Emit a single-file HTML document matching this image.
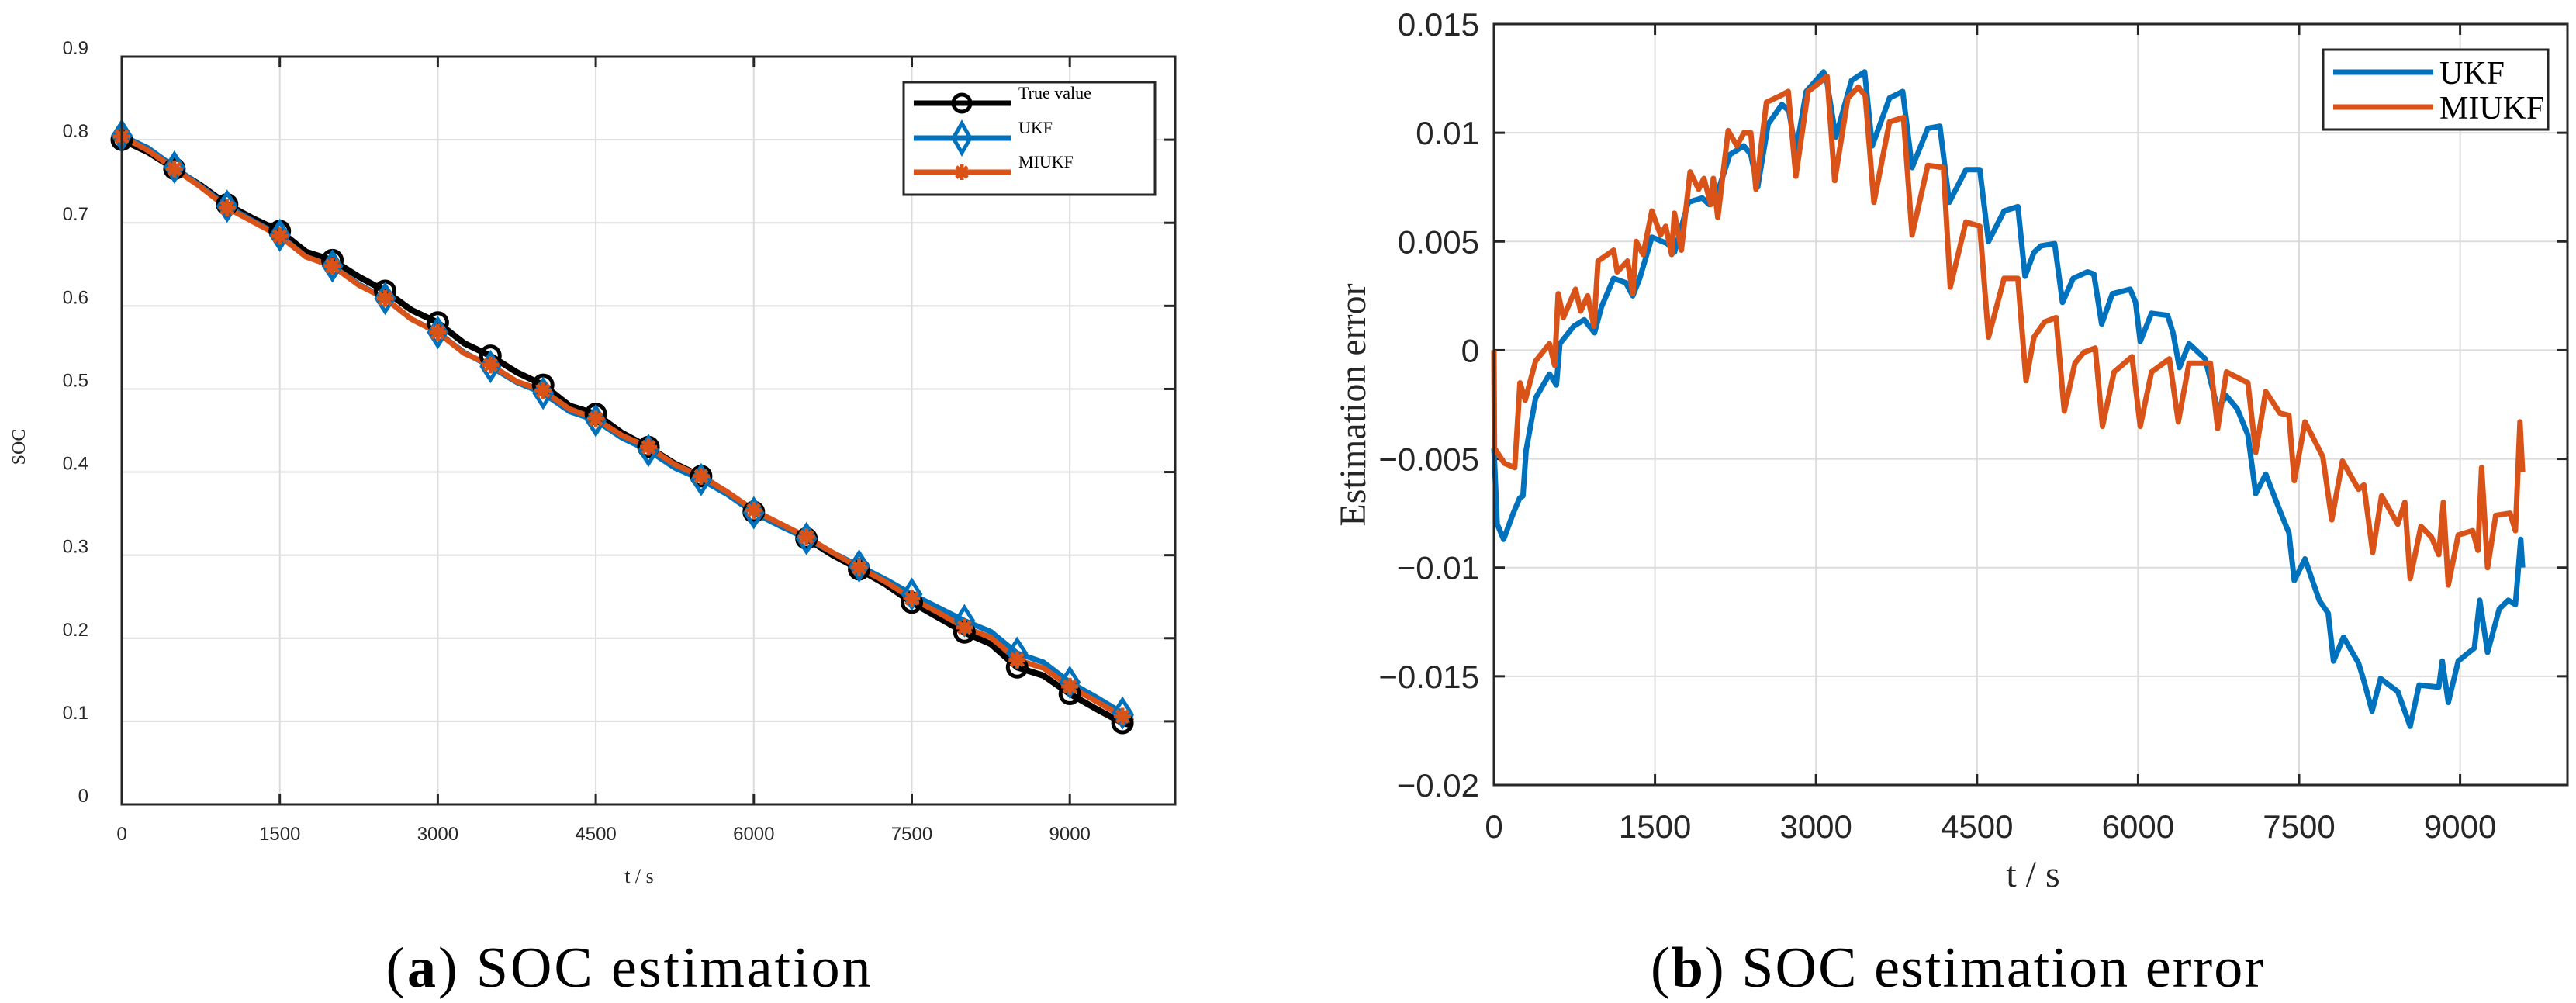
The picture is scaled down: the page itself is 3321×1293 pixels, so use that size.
<!DOCTYPE html>
<html><head><meta charset="utf-8"><style>
html,body{margin:0;padding:0;background:#fff;}
svg{display:block;}
</style></head><body>
<svg id="fig" width="3321" height="1293" viewBox="0 0 3321 1293" xmlns="http://www.w3.org/2000/svg">
<rect width="3321" height="1293" fill="#fff"/>
<g id="chartA"></g>
<g id="chartB"></g>
<text x="810" y="1272" text-anchor="middle" font-family="Liberation Serif, serif" font-size="74" fill="#000" textLength="625">(<tspan font-weight="bold">a</tspan>) SOC estimation</text>
<text x="2523" y="1272" text-anchor="middle" font-family="Liberation Serif, serif" font-size="74" fill="#000" textLength="790">(<tspan font-weight="bold">b</tspan>) SOC estimation error</text>
</svg>
<script>
// ---- Chart A data ----
const socTimes = [0,250,500,750,1000,1250,1500,1750,2000,2250,2500,2750,3000,3250,3500,3750,4000,4250,4500,4750,5000,5250,5500,5750,6000,6250,6500,6750,7000,7250,7500,7750,8000,8250,8500,8750,9000,9250,9500,9600];
const socTrue = [0.800,0.785,0.765,0.745,0.722,0.705,0.690,0.665,0.655,0.635,0.618,0.595,0.580,0.555,0.540,0.520,0.505,0.480,0.470,0.447,0.430,0.410,0.395,0.375,0.352,0.337,0.320,0.300,0.283,0.265,0.243,0.225,0.207,0.193,0.165,0.155,0.133,0.115,0.098,0.095];
const socUKF = [0.805,0.790,0.767,0.744,0.720,0.702,0.685,0.659,0.648,0.626,0.609,0.584,0.568,0.544,0.527,0.508,0.495,0.473,0.462,0.441,0.426,0.405,0.391,0.373,0.351,0.335,0.320,0.303,0.287,0.271,0.253,0.237,0.221,0.208,0.182,0.171,0.147,0.129,0.110,0.105];
const socMIUKF = [0.804,0.787,0.765,0.743,0.718,0.701,0.684,0.659,0.648,0.625,0.609,0.584,0.568,0.543,0.529,0.509,0.498,0.476,0.464,0.444,0.430,0.409,0.395,0.376,0.354,0.338,0.322,0.303,0.285,0.268,0.248,0.231,0.213,0.201,0.174,0.164,0.142,0.124,0.106,0.100];
const xTicksA = [0,1500,3000,4500,6000,7500,9000];
const yTicksA = [0,0.1,0.2,0.3,0.4,0.5,0.6,0.7,0.8,0.9];
const yTickLabelsA = ["0","0.1","0.2","0.3","0.4","0.5","0.6","0.7","0.8","0.9"];
// ---- Chart B data ----
const ukfErrT = [0,30,90,180,240,270,300,388,517,582,614,743,841,873,937,1002,1115,1228,1293,1358,1471,1616,1681,1810,1940,2004,2053,2198,2328,2392,2457,2554,2683,2748,2812,2909,3071,3103,3184,3330,3453,3524,3685,3808,3895,4041,4154,4241,4397,4526,4607,4752,4881,4947,5030,5096,5223,5296,5395,5528,5588,5661,5761,5927,5977,6020,6126,6276,6326,6385,6475,6625,6741,6824,6924,7023,7096,7189,7322,7405,7455,7555,7688,7771,7821,7914,8054,8103,8180,8259,8419,8535,8618,8801,8834,8890,8983,9133,9183,9256,9365,9449,9515,9565,9582];
const ukfErr = [-0.0045,-0.008,-0.0087,-0.0075,-0.0068,-0.0067,-0.0046,-0.0022,-0.0011,-0.0016,0.0003,0.0011,0.0014,0.0012,0.0008,0.0020,0.0033,0.0031,0.0025,0.0033,0.0052,0.0049,0.0045,0.0068,0.0070,0.0067,0.0068,0.0090,0.0094,0.0090,0.0075,0.0104,0.0113,0.0110,0.0091,0.0119,0.0128,0.0123,0.0098,0.0124,0.0128,0.0094,0.0116,0.0119,0.0084,0.0102,0.0103,0.0068,0.0083,0.0083,0.0050,0.0064,0.0066,0.0034,0.0045,0.0048,0.0049,0.0022,0.0033,0.0036,0.0035,0.0012,0.0026,0.0028,0.0022,0.0004,0.0017,0.0016,0.0008,-0.0008,0.0003,-0.0004,-0.0027,-0.0021,-0.0027,-0.0039,-0.0066,-0.0057,-0.0074,-0.0084,-0.0106,-0.0096,-0.0115,-0.0121,-0.0143,-0.0132,-0.0144,-0.0152,-0.0166,-0.0151,-0.0157,-0.0173,-0.0154,-0.0155,-0.0143,-0.0162,-0.0143,-0.0137,-0.0115,-0.0139,-0.0119,-0.0115,-0.0117,-0.0087,-0.0100];
const miukfErrT = [0,5,97,194,243,291,388,517,566,598,647,760,808,873,931,970,1115,1148,1244,1293,1325,1390,1471,1552,1600,1655,1681,1746,1827,1907,1956,2020,2043,2085,2182,2263,2328,2392,2441,2538,2667,2741,2812,2926,3006,3103,3174,3297,3394,3459,3540,3685,3815,3895,4041,4187,4251,4397,4526,4607,4752,4881,4957,5030,5130,5236,5313,5412,5495,5601,5668,5777,5944,6020,6126,6292,6375,6475,6674,6741,6824,7023,7096,7189,7322,7405,7455,7555,7721,7804,7904,8054,8103,8186,8269,8419,8485,8535,8635,8734,8801,8844,8890,8983,9116,9166,9200,9256,9332,9465,9515,9558,9582];
const miukfErr = [0.0,-0.0045,-0.0052,-0.0054,-0.0015,-0.0023,-0.0005,0.0003,-0.0007,0.0026,0.0015,0.0028,0.0018,0.0025,0.0011,0.0041,0.0046,0.0036,0.0041,0.0026,0.0050,0.0044,0.0064,0.0053,0.0057,0.0044,0.0063,0.0046,0.0082,0.0074,0.0079,0.0067,0.0079,0.0061,0.0101,0.0094,0.0100,0.0100,0.0074,0.0114,0.0117,0.0119,0.0080,0.0119,0.0122,0.0126,0.0078,0.0116,0.0121,0.0117,0.0068,0.0105,0.0107,0.0053,0.0085,0.0084,0.0029,0.0059,0.0057,0.0006,0.0033,0.0033,-0.0014,0.0006,0.0013,0.0015,-0.0028,-0.0006,-0.0001,0.0001,-0.0035,-0.0010,-0.0003,-0.0035,-0.0010,-0.0004,-0.0033,-0.0006,-0.0006,-0.0036,-0.0010,-0.0015,-0.0047,-0.0019,-0.0029,-0.0030,-0.0060,-0.0033,-0.0049,-0.0078,-0.0051,-0.0064,-0.0062,-0.0093,-0.0067,-0.0080,-0.0070,-0.0105,-0.0081,-0.0086,-0.0094,-0.0070,-0.0108,-0.0085,-0.0083,-0.0092,-0.0054,-0.0100,-0.0076,-0.0075,-0.0083,-0.0033,-0.0056];
const xTicksB = [0,1500,3000,4500,6000,7500,9000];
const yTicksB = [-0.02,-0.015,-0.01,-0.005,0,0.005,0.01,0.015];
const yTickLabelsB = ["\u22120.02","\u22120.015","\u22120.01","\u22120.005","0","0.005","0.01","0.015"];

const NS = "http://www.w3.org/2000/svg";
function mk(parent, tag, attrs, txt){
  const e = document.createElementNS(NS, tag);
  for (const k in attrs) e.setAttribute(k, attrs[k]);
  if (txt !== undefined) e.textContent = txt;
  parent.appendChild(e);
  return e;
}
const BLUE = "#0072BD", ORANGE = "#D95319";

// ===== Chart A =====
(function(){
  const g = document.getElementById("chartA");
  const L=157,R=1515,T=73,B=1037;
  const xA = t => L + t/10000*(R-L);
  const yA = v => B - v/0.9*(B-T);
  xTicksA.forEach(t=>{
    const gl = mk(g,"line",{x1:xA(t),x2:xA(t),y1:T,y2:B,stroke:"#dcdcdc","stroke-width":2});
    
    
    const tk = mk(g,"text",{x:xA(t),y:1083,"text-anchor":"middle","font-family":"Liberation Sans, sans-serif","font-size":24,fill:"#262626"},String(t));
    
    
    mk(g,"line",{x1:xA(t),x2:xA(t),y1:B,y2:B-14,stroke:"#262626","stroke-width":3});
    mk(g,"line",{x1:xA(t),x2:xA(t),y1:T,y2:T+14,stroke:"#262626","stroke-width":3});
  });
  yTicksA.forEach((v,i)=>{
    const gl = mk(g,"line",{x1:L,x2:R,y1:yA(v),y2:yA(v),stroke:"#dcdcdc","stroke-width":2});
    
    
    const tk = mk(g,"text",{x:114,y:yA(v)-3,"text-anchor":"end","font-family":"Liberation Sans, sans-serif","font-size":24,fill:"#262626"},yTickLabelsA[i]);
    
    
    mk(g,"line",{x1:R,x2:R-14,y1:yA(v),y2:yA(v),stroke:"#262626","stroke-width":3});
  });
  function series(vals, color, w, name){
    const d = socTimes.map((t,i)=>(i?"L":"M")+xA(t).toFixed(1)+","+yA(vals[i]).toFixed(1)).join(" ");
    const p = mk(g,"path",{d:d,fill:"none",stroke:color,"stroke-width":w,"stroke-linejoin":"round"});
    
    
  }
  series(socTrue,"#000",8,"true-value-line");
  series(socUKF,BLUE,7,"ukf-line");
  series(socMIUKF,ORANGE,7,"miukf-line");
  function circle(x,y){ mk(g,"circle",{cx:x,cy:y,r:12,fill:"none",stroke:"#000","stroke-width":5}); }
  function diamond(x,y){ mk(g,"path",{d:`M${x},${y-17} L${x+11},${y} L${x},${y+17} L${x-11},${y} Z`,fill:"none",stroke:BLUE,"stroke-width":5}); }
  function star(x,y){
    for(let a=0;a<4;a++){const an=a*Math.PI/4;mk(g,"line",{x1:x-11*Math.cos(an),y1:y-11*Math.sin(an),x2:x+11*Math.cos(an),y2:y+11*Math.sin(an),stroke:ORANGE,"stroke-width":5});}
    mk(g,"circle",{cx:x,cy:y,r:7,fill:ORANGE});
  }
  socTimes.forEach((t,i)=>{
    if (t%500!==0) return;
    circle(xA(t),yA(socTrue[i]));
    diamond(xA(t),yA(socUKF[i]));
    star(xA(t),yA(socMIUKF[i]));
  });
  mk(g,"rect",{x:L,y:T,width:R-L,height:B-T,fill:"none",stroke:"#262626","stroke-width":3});
  const xl = mk(g,"text",{x:824,y:1138,"text-anchor":"middle","font-family":"Liberation Serif, serif","font-size":26,fill:"#262626"},"t / s");
  
  
  const yl = mk(g,"text",{x:0,y:0,"text-anchor":"middle","font-family":"Liberation Serif, serif","font-size":24,fill:"#262626",transform:"translate(32,576) rotate(-90)"},"SOC");
  
  
  const lg = mk(g,"g",{});
  
  
  mk(lg,"rect",{x:1165,y:106,width:324,height:145,fill:"#fff",stroke:"#262626","stroke-width":3});
  const ents=[["True value","#000",133],["UKF",BLUE,178],["MIUKF",ORANGE,222]];
  ents.forEach((e,i)=>{
    mk(lg,"line",{x1:1178,x2:1303,y1:e[2],y2:e[2],stroke:e[1],"stroke-width":7});
    if(i===0) mk(lg,"circle",{cx:1240,cy:e[2],r:11,fill:"none",stroke:"#000","stroke-width":5});
    if(i===1) mk(lg,"path",{d:`M1240,${e[2]-19} L1251,${e[2]} L1240,${e[2]+19} L1229,${e[2]} Z`,fill:"none",stroke:BLUE,"stroke-width":5});
    if(i===2){ for(let a=0;a<4;a++){const an=a*Math.PI/4;mk(lg,"line",{x1:1240-10*Math.cos(an),y1:e[2]-10*Math.sin(an),x2:1240+10*Math.cos(an),y2:e[2]+10*Math.sin(an),stroke:ORANGE,"stroke-width":5});} }
    const tx = mk(lg,"text",{x:1313,y:e[2]-6,"font-family":"Liberation Serif, serif","font-size":22,fill:"#000"},e[0]);
    
    
  });
})();

// ===== Chart B =====
(function(){
  const g = document.getElementById("chartB");
  const L=1926,R=3310,T=31,B=1012;
  const xB = t => L + t/10000*(R-L);
  const yB = v => B - (v+0.02)/0.035*(B-T);
  xTicksB.forEach(t=>{
    const gl = mk(g,"line",{x1:xB(t),x2:xB(t),y1:T,y2:B,stroke:"#dcdcdc","stroke-width":2});
    
    
    const tk = mk(g,"text",{x:xB(t),y:1080,"text-anchor":"middle","font-family":"Liberation Sans, sans-serif","font-size":42,fill:"#262626"},String(t));
    
    
    mk(g,"line",{x1:xB(t),x2:xB(t),y1:B,y2:B-14,stroke:"#262626","stroke-width":3});
    mk(g,"line",{x1:xB(t),x2:xB(t),y1:T,y2:T+14,stroke:"#262626","stroke-width":3});
  });
  yTicksB.forEach((v,i)=>{
    const gl = mk(g,"line",{x1:L,x2:R,y1:yB(v),y2:yB(v),stroke:"#dcdcdc","stroke-width":2});
    
    
    const tk = mk(g,"text",{x:1907,y:yB(v)+15,"text-anchor":"end","font-family":"Liberation Sans, sans-serif","font-size":42,fill:"#262626"},yTickLabelsB[i]);
    
    
    mk(g,"line",{x1:L,x2:L+14,y1:yB(v),y2:yB(v),stroke:"#262626","stroke-width":3});
    mk(g,"line",{x1:R,x2:R-14,y1:yB(v),y2:yB(v),stroke:"#262626","stroke-width":3});
  });
  function series(ts, vals, color, name){
    const d = ts.map((t,i)=>(i?"L":"M")+xB(t).toFixed(1)+","+yB(vals[i]).toFixed(1)).join(" ");
    const p = mk(g,"path",{d:d,fill:"none",stroke:color,"stroke-width":7,"stroke-linejoin":"round"});
    
    
  }
  series(ukfErrT, ukfErr, BLUE, "ukf-error-line");
  series(miukfErrT, miukfErr, ORANGE, "miukf-error-line");
  mk(g,"rect",{x:L,y:T,width:R-L,height:B-T,fill:"none",stroke:"#262626","stroke-width":3});
  const xl = mk(g,"text",{x:2621,y:1143,"text-anchor":"middle","font-family":"Liberation Serif, serif","font-size":48,fill:"#262626"},"t / s");
  
  
  const yl = mk(g,"text",{x:0,y:0,"text-anchor":"middle","font-family":"Liberation Serif, serif","font-size":48,fill:"#262626",transform:"translate(1760,522) rotate(-90)"},"Estimation error");
  
  
  const lg = mk(g,"g",{});
  
  
  mk(lg,"rect",{x:2995,y:64,width:290,height:103,fill:"#fff",stroke:"#262626","stroke-width":3});
  [["UKF",BLUE,93],["MIUKF",ORANGE,138]].forEach(e=>{
    mk(lg,"line",{x1:3008,x2:3137,y1:e[2],y2:e[2],stroke:e[1],"stroke-width":7});
    const tx = mk(lg,"text",{x:3145,y:e[2]+15,"font-family":"Liberation Serif, serif","font-size":42,fill:"#000"},e[0]);
    
    
  });
})();
</script>
</body></html>
